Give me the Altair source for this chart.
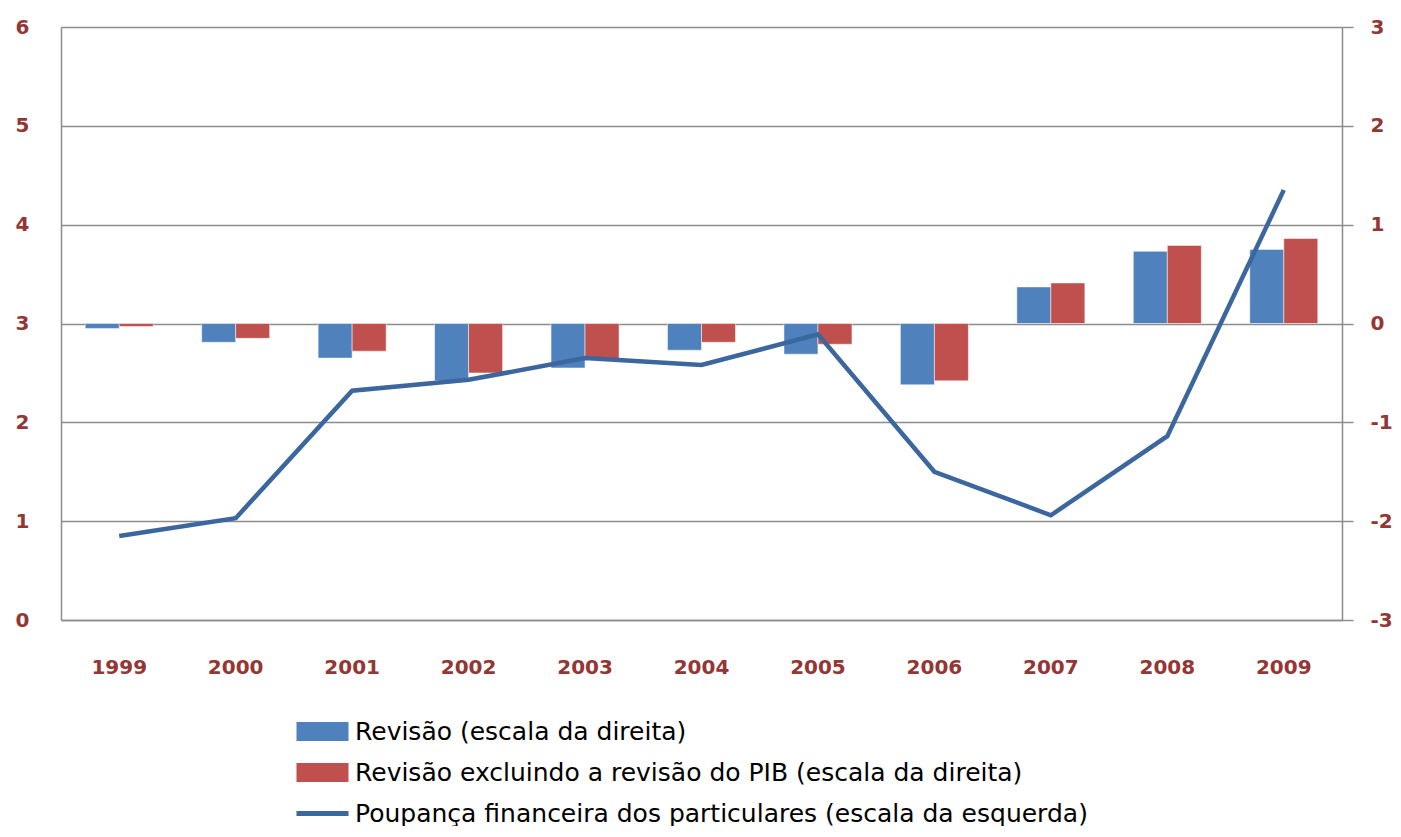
import altair as alt
import pandas as pd

years = ["1999", "2000", "2001", "2002", "2003", "2004", "2005", "2006", "2007", "2008", "2009"]
revisao = [-0.05, -0.19, -0.35, -0.58, -0.45, -0.27, -0.31, -0.62, 0.37, 0.73, 0.75]
revisao_excl = [-0.03, -0.15, -0.28, -0.50, -0.36, -0.19, -0.21, -0.58, 0.41, 0.79, 0.86]
poupanca = [0.85, 1.03, 2.32, 2.43, 2.65, 2.58, 2.89, 1.50, 1.06, 1.86, 4.35]

s_rev = "Revisão (escala da direita)"
s_excl = "Revisão excluindo a revisão do PIB (escala da direita)"
s_poup = "Poupança financeira dos particulares (escala da esquerda)"
series = [s_rev, s_excl, s_poup]
colors = ["#4F81BD", "#C0504D", "#3B679E"]

bars_df = pd.DataFrame(
    {"ano": years * 2,
     "serie": [s_rev] * len(years) + [s_excl] * len(years),
     "valor": revisao + revisao_excl}
)
line_df = pd.DataFrame({"ano": years, "serie": [s_poup] * len(years), "valor": poupanca})
legend_df = pd.DataFrame({"serie": series})

color_scale = alt.Scale(domain=series, range=colors)
LABEL_COLOR = "#943634"
GRID = "#8C8C8C"

box_path = "M-2.6,-0.95H2.6V0.95H-2.6Z"
line_path = "M-2.6,-0.25H2.6V0.25H-2.6Z"


def make_legend():
    return alt.Legend(title=None, orient="none", legendX=249, legendY=692,
                      direction="vertical", symbolSize=400,
                      symbolOpacity=1, symbolStrokeWidth=0,
                      labelFont="DejaVu Sans", labelFontSize=25,
                      labelColor="#000000", labelOffset=20,
                      rowPadding=15, padding=0, labelLimit=1200)


x_enc = alt.X("ano:N", sort=years,
              scale=alt.Scale(paddingInner=0.416, paddingOuter=0.208),
              axis=alt.Axis(title=None, ticks=False, tickSize=0, labelPadding=47,
                            labelBaseline="middle", labelAngle=0,
                            labelFont="DejaVu Sans", labelFontWeight="bold",
                            labelFontSize=20, labelColor=LABEL_COLOR,
                            domainColor=GRID, domainWidth=1.5, grid=False))

bars = alt.Chart(bars_df).mark_bar(stroke="white", strokeWidth=0.5).encode(
    x=x_enc,
    xOffset=alt.XOffset("serie:N", sort=[s_rev, s_excl],
                        scale=alt.Scale(paddingInner=0, paddingOuter=0)),
    y=alt.Y("valor:Q", scale=alt.Scale(domain=[-3, 3], nice=False),
            axis=alt.Axis(title=None, orient="right", values=[-3, -2, -1, 0, 1, 2, 3],
                          labelExpr="'' + datum.value",
                          grid=False, ticks=True, tickSize=11, tickColor=GRID, tickWidth=1.5,
                          labelAlign="left", labelPadding=17,
                          labelFont="DejaVu Sans", labelFontWeight="bold",
                          labelFontSize=20, labelColor=LABEL_COLOR,
                          domainColor=GRID, domainWidth=1.5)),
    color=alt.Color("serie:N", scale=color_scale, legend=make_legend()),
)

line = alt.Chart(line_df).mark_line(strokeWidth=4.5).encode(
    x=x_enc,
    y=alt.Y("valor:Q", scale=alt.Scale(domain=[0, 6], nice=False),
            axis=alt.Axis(title=None, orient="left", values=[0, 1, 2, 3, 4, 5, 6],
                          grid=True, gridColor=GRID, gridWidth=1.5,
                          ticks=False, tickSize=0, labelPadding=32,
                          labelFont="DejaVu Sans", labelFontWeight="bold",
                          labelFontSize=20, labelColor=LABEL_COLOR,
                          domainColor=GRID, domainWidth=1.5)),
    color=alt.Color("serie:N", scale=color_scale, legend=make_legend()),
)

legend_pts = alt.Chart(legend_df).mark_point(filled=True, opacity=0, size=1).encode(
    color=alt.Color("serie:N", scale=color_scale, legend=make_legend()),
    shape=alt.Shape("serie:N", scale=alt.Scale(domain=series, range=[box_path, box_path, line_path]),
                    legend=make_legend()),
)

chart = alt.layer(bars, line, legend_pts).resolve_scale(
    y="independent"
).properties(
    width=1281, height=593,
    autosize=alt.AutoSizeParams(type="none"),
    padding={"left": 53, "top": 19, "right": 51, "bottom": 206},
).configure_view(stroke=None).configure(background="white")

chart.save("out.html", embed_options={"renderer": "svg", "actions": False})
